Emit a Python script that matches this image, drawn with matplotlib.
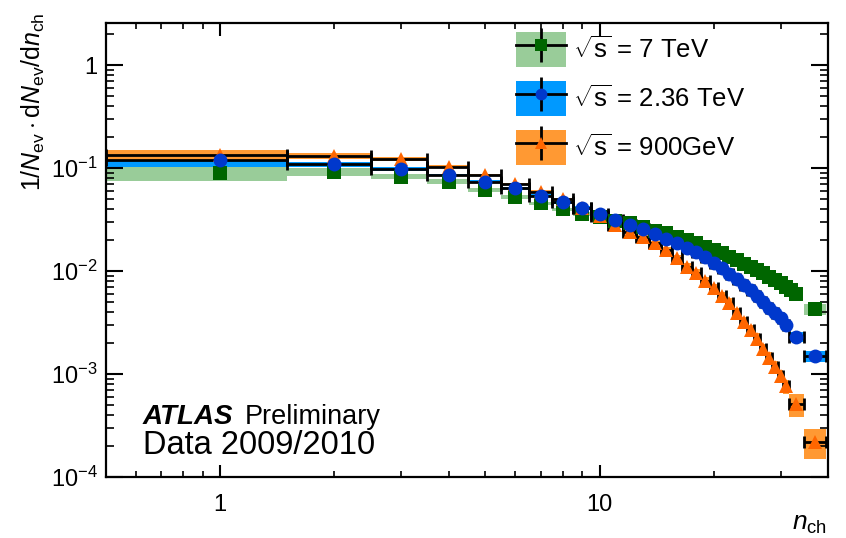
import numpy as np
import matplotlib
matplotlib.use('Agg')
import matplotlib.pyplot as plt
from matplotlib.patches import Patch
from matplotlib.lines import Line2D
from matplotlib.legend_handler import HandlerTuple
from matplotlib.ticker import LogLocator, FuncFormatter, NullFormatter

plt.rcParams['font.family'] = ['Liberation Sans', 'DejaVu Sans']
plt.rcParams['mathtext.fontset'] = 'custom'
plt.rcParams['mathtext.rm'] = 'Liberation Sans'
plt.rcParams['mathtext.it'] = 'Liberation Sans:italic'
plt.rcParams['mathtext.bf'] = 'Liberation Sans:bold'

# ---- data ----
# 7 TeV
n_7 = list(range(1, 34)) + [37]
lo_7 = [v - 0.5 for v in range(1, 34)] + [34.5]
hi_7 = [v + 0.5 for v in range(1, 34)] + [39.5]
y_7 = [0.089, 0.0915, 0.0824, 0.074, 0.061, 0.0526, 0.0454, 0.0397, 0.0358, 0.0335,
       0.0305, 0.029, 0.0266, 0.0246, 0.0232, 0.0215, 0.0200, 0.0186, 0.0172, 0.0160,
       0.0149, 0.0138, 0.0128, 0.0117, 0.0109, 0.0102, 0.0095, 0.0088, 0.0082, 0.0076,
       0.0070, 0.0065, 0.0060, 0.0043]
sys_7 = [0.15, 0.09, 0.06, 0.05, 0.04, 0.04, 0.04, 0.04, 0.04, 0.04,
         0.04, 0.04, 0.04, 0.04, 0.04, 0.04, 0.04, 0.04, 0.04, 0.04,
         0.05, 0.05, 0.05, 0.05, 0.05, 0.05, 0.05, 0.05, 0.05, 0.05,
         0.05, 0.05, 0.05, 0.12]

# 2.36 TeV
n_236 = list(range(1, 32)) + [33, 37]
lo_236 = [v - 0.5 for v in range(1, 32)] + [31.5, 34.5]
hi_236 = [v + 0.5 for v in range(1, 32)] + [34.5, 39.5]
y_236 = [0.12, 0.109, 0.098, 0.0855, 0.074, 0.0635, 0.054, 0.0465, 0.0412, 0.0355,
         0.0313, 0.028, 0.0254, 0.0227, 0.0207, 0.0188, 0.0169, 0.0152, 0.0138, 0.0121,
         0.0106, 0.0094, 0.0083, 0.0073, 0.0065, 0.0057, 0.0050, 0.0044, 0.0039, 0.0035,
         0.0030, 0.0023, 0.00148]
sys_236 = [0.14, 0.05, 0.04, 0.03, 0.03, 0.03, 0.03, 0.03, 0.03, 0.03,
           0.03, 0.03, 0.03, 0.03, 0.03, 0.03, 0.03, 0.04, 0.04, 0.04,
           0.04, 0.04, 0.05, 0.05, 0.06, 0.06, 0.06, 0.06, 0.06, 0.06,
           0.06, 0.11, 0.12]

# 900 GeV
n_900 = list(range(1, 32)) + [33, 37]
lo_900 = [v - 0.5 for v in range(1, 32)] + [31.5, 34.5]
hi_900 = [v + 0.5 for v in range(1, 32)] + [34.5, 39.5]
y_900 = [0.134, 0.131, 0.122, 0.103, 0.0855, 0.070, 0.059, 0.0497, 0.041, 0.034,
         0.028, 0.0241, 0.0212, 0.0186, 0.016, 0.0133, 0.0110, 0.0095, 0.0080, 0.0068,
         0.0057, 0.0049, 0.0039, 0.0032, 0.0027, 0.0022, 0.00175, 0.00143, 0.00118, 0.00096,
         0.00076, 0.00051, 0.00022]
sys_900 = [0.11, 0.07, 0.05, 0.03, 0.03, 0.03, 0.03, 0.03, 0.03, 0.03,
           0.03, 0.03, 0.05, 0.06, 0.07, 0.08, 0.08, 0.09, 0.09, 0.10,
           0.10, 0.11, 0.11, 0.12, 0.12, 0.13, 0.13, 0.14, 0.14, 0.15,
           0.15, 0.25, 0.32]

labels = [r'$\sqrt{\mathrm{s}}$ = 7 TeV', r'$\sqrt{\mathrm{s}}$ = 2.36 TeV', r'$\sqrt{\mathrm{s}}$ = 900GeV']

series = [
    (n_7, lo_7, hi_7, y_7, sys_7, '#99cc99', '#006600', 's', 9.5, False),
    (n_236, lo_236, hi_236, y_236, sys_236, '#0099ff', '#0038cc', 'o', 10.0, True),
    (n_900, lo_900, hi_900, y_900, sys_900, '#ff9933', '#ff6600', '^', 10.0, True),
]

fig = plt.figure(figsize=(8.46, 5.38), dpi=100)
W, H = 846, 538
ax = fig.add_axes([106 / W, 1 - 477 / H, (828 - 106) / W, (477 - 22.7) / H])
ax.set_xscale('log')
ax.set_yscale('log')

# systematic bands
for i, (n, lo, hi, y, s, band, mc, mk, ms, bars) in enumerate(series):
    lo = np.array(lo); hi = np.array(hi)
    y = np.array(y); s = np.array(s)
    ax.bar(lo, y * (1 + s) - y * (1 - s), bottom=y * (1 - s), width=hi - lo,
           align='edge', color=band, linewidth=0, zorder=1 + i * 0.1)

# bin-width bars
for i, (n, lo, hi, y, s, band, mc, mk, ms, bars) in enumerate(series):
    if bars:
        n = np.array(n, float)
        ax.errorbar(n, y, xerr=[n - np.array(lo), np.array(hi) - n], fmt='none',
                    ecolor='k', elinewidth=2.0, capsize=4.5, capthick=2.0, zorder=3)

zorders = [4, 6, 5]
for i, (n, lo, hi, y, s, band, mc, mk, ms, bars) in enumerate(series):
    ax.plot(n, y, ls='none', marker=mk, ms=ms, color=mc, mew=0, zorder=zorders[i])

ax.set_xlim(0.5, 40)
ax.set_ylim(1e-4, 2.58)

ax.xaxis.set_major_locator(LogLocator(base=10))
ax.xaxis.set_minor_locator(LogLocator(base=10, subs=np.arange(2, 10)))
ax.yaxis.set_major_locator(LogLocator(base=10))
ax.yaxis.set_minor_locator(LogLocator(base=10, subs=np.arange(2, 10), numticks=20))
ax.xaxis.set_major_formatter(FuncFormatter(lambda v, p: '%g' % v))
ax.xaxis.set_minor_formatter(NullFormatter())


def yfmt(v, p):
    e = int(round(np.log10(v)))
    return '1' if e == 0 else r'$\mathregular{10^{%d}}$' % e


ax.yaxis.set_major_formatter(FuncFormatter(yfmt))
ax.yaxis.set_minor_formatter(NullFormatter())

ax.tick_params(which='both', direction='in', top=True, right=True)
ax.tick_params(axis='y', which='major', length=12, width=1.5, labelsize=17, pad=6)
ax.tick_params(axis='y', which='minor', length=6, width=1.2)
ax.tick_params(axis='x', which='major', length=9, width=1.5, labelsize=17, pad=12)
ax.tick_params(axis='x', which='minor', length=4.5, width=1.2)
for sp in ax.spines.values():
    sp.set_linewidth(1.6)

fig.text(33 / W, 1 - 12 / H,
         r'$1/\mathit{N}_{\mathrm{ev}}\cdot\mathrm{d}\mathit{N}_{\mathrm{ev}}/\mathrm{d}\mathit{n}_{\mathrm{ch}}$',
         rotation=90, ha='center', va='top', fontsize=18)
fig.text(827 / W, 1 - 530 / H, r'$\mathit{n}_{\mathrm{ch}}$', ha='right', va='baseline', fontsize=19)

fig.text(143 / W, 1 - 424 / H, 'ATLAS', fontsize=20, fontweight='bold', fontstyle='italic', va='baseline')
fig.text(245 / W, 1 - 424 / H, 'Preliminary', fontsize=19.5, va='baseline')
fig.text(143 / W, 1 - 454 / H, 'Data 2009/2010', fontsize=23.5, va='baseline')

handles = []
for (n, lo, hi, y, s, band, mc, mk, ms, bars) in series:
    handles.append((Patch(facecolor=band, edgecolor='none'),
                    Line2D([], [], color='k', lw=2.0, marker='|', ms=25, mew=2.0),
                    Line2D([], [], ls='none', marker=mk, ms=ms * 0.85, color=mc, mew=0)))
fig.legend(handles, labels, loc='upper left', bbox_to_anchor=(516 / W, 1 - 32 / H),
           frameon=False, fontsize=18.5, handlelength=1.95, handleheight=1.72,
           handletextpad=0.25, labelspacing=0.55, borderpad=0, borderaxespad=0,
           handler_map={tuple: HandlerTuple(ndivide=1, pad=0)})

fig.savefig('out.png', dpi=100)
